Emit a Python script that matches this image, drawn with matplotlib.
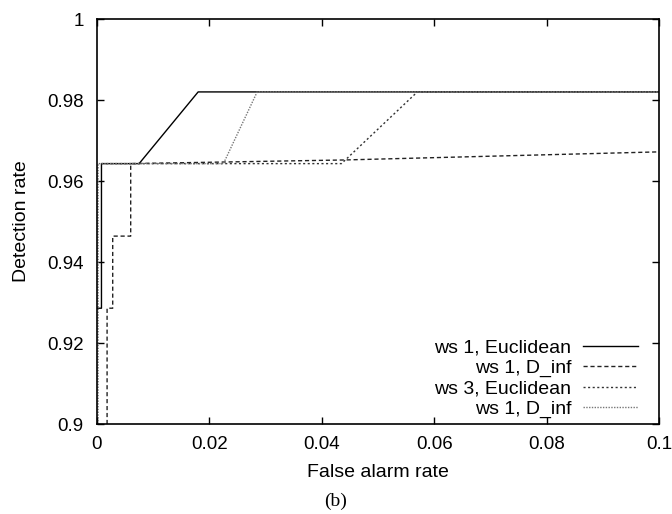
import matplotlib
matplotlib.use("Agg")
import matplotlib.pyplot as plt

plt.rcParams['font.family'] = ['Liberation Sans', 'DejaVu Sans']

# Data
ws1_euc_x = [0.0, 0.0008, 0.0008, 0.0075, 0.018, 0.1]
ws1_euc_y = [0.9286, 0.9286, 0.9643, 0.9643, 0.982, 0.982]

ws1_dinf_x = [0.0018, 0.0018, 0.0028, 0.0028, 0.006, 0.006, 0.044, 0.1]
ws1_dinf_y = [0.9, 0.9286, 0.9286, 0.9464, 0.9464, 0.9643, 0.9652, 0.9672]

ws3_euc_x = [0.0008, 0.0435, 0.057, 0.1]
ws3_euc_y = [0.9643, 0.9643, 0.982, 0.982]

ws1_dinf2_x = [0.0002, 0.0002, 0.0225, 0.0285, 0.1]
ws1_dinf2_y = [0.9, 0.9643, 0.9643, 0.982, 0.982]

labels = ["ws 1, Euclidean", "ws 1, D_inf", "ws 3, Euclidean", "ws 1, D_inf"]
xticks = [0, 0.02, 0.04, 0.06, 0.08, 0.1]
xticklabels = ["0", "0.02", "0.04", "0.06", "0.08", "0.1"]
yticks = [0.9, 0.92, 0.94, 0.96, 0.98, 1.0]
yticklabels = ["0.9", "0.92", "0.94", "0.96", "0.98", "1"]

fig = plt.figure(figsize=(6.72, 5.14), dpi=100)
ax = fig.add_axes([0.1443, 0.175, 0.9807 - 0.1443, 0.963 - 0.175])

ax.plot(ws1_euc_x, ws1_euc_y, color='black', lw=1.0, linestyle='-', label=labels[0])
ax.plot(ws1_dinf_x, ws1_dinf_y, color='#222222', lw=1.0, linestyle=(0, (3, 2)), label=labels[1])
ax.plot(ws3_euc_x, ws3_euc_y, color='#333333', lw=1.0, linestyle=(0, (1.5, 1.8)), label=labels[2])
ax.plot(ws1_dinf2_x, ws1_dinf2_y, color='#777777', lw=1.0, linestyle=(0, (1, 1)), label=labels[3])

ax.set_xlim(0, 0.1)
ax.set_ylim(0.9, 1.0)
ax.set_xticks(xticks)
ax.set_xticklabels(xticklabels)
ax.set_yticks(yticks)
ax.set_yticklabels(yticklabels)
ax.tick_params(direction='in', top=True, right=True, length=5, width=1, labelsize=13.5)
ax.tick_params(axis='x', pad=8.5)
ax.tick_params(axis='y', pad=9.5)
for s in ax.spines.values():
    s.set_linewidth(1.2)

ax.set_xlabel("False alarm rate", fontsize=14, va='center')
ax.xaxis.set_label_coords(0.5, -0.1185)
ax.set_ylabel("Detection rate", fontsize=14, va='center')
ax.yaxis.set_label_coords(-0.1335, 0.5)

leg = ax.legend(loc='lower right', bbox_to_anchor=(0.976, -0.005), frameon=False,
                fontsize=14, markerfirst=False, handlelength=2.83,
                handletextpad=0.59, labelspacing=0.14, borderaxespad=0.0)
for t in leg.get_texts():
    t.set_ha('right')
leg._legend_box.align = "right"

fig.text(0.5, 1 - 501 / 514, "(b)", ha='center', va='center', fontsize=14,
         family=['Liberation Serif', 'DejaVu Serif'])

fig.savefig("out.png", dpi=100)
